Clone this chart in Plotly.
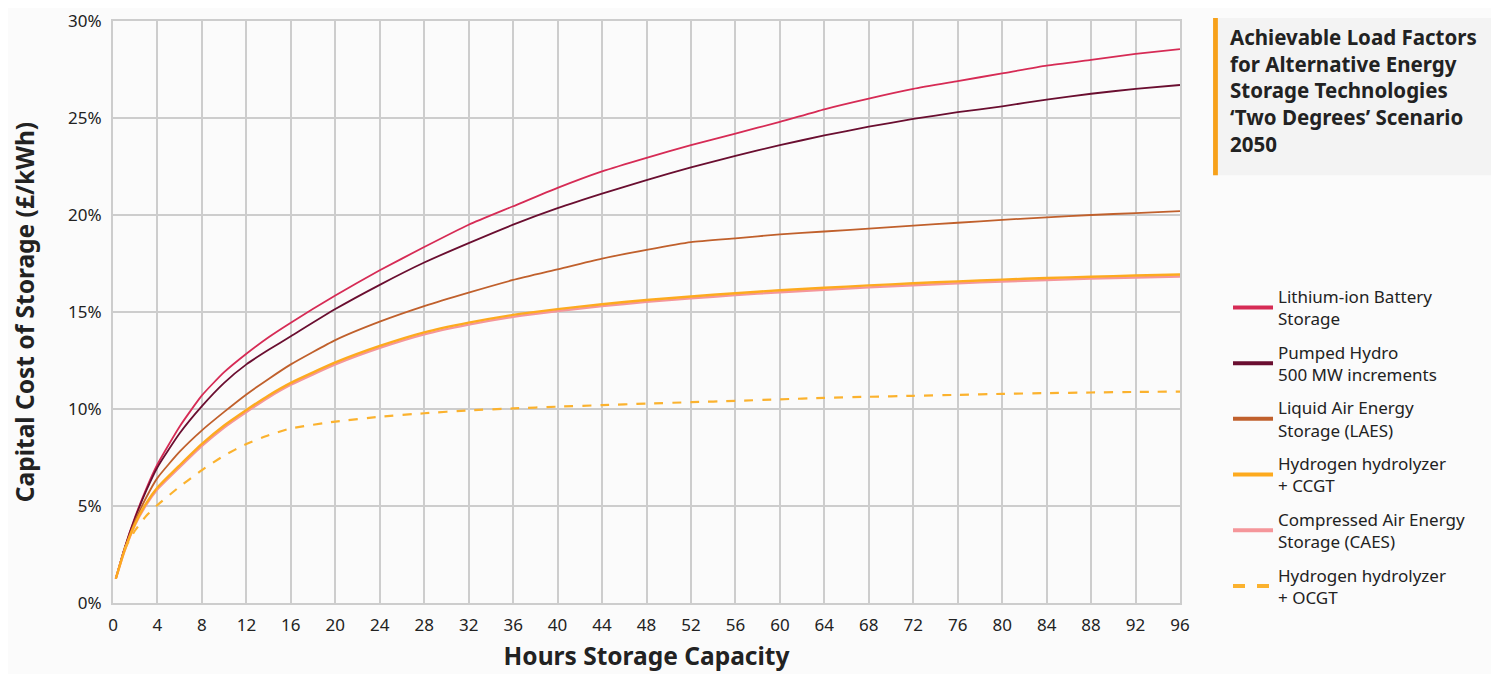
import plotly.graph_objects as go

# hours of storage capacity (x)
hours = [0.25, 1, 2, 3, 4, 6, 8, 10, 12, 14, 16, 20, 24, 28, 32, 36, 40, 44, 48,
         52, 56, 60, 64, 68, 72, 76, 80, 84, 88, 92, 96]

# achievable load factor, %
lithium = [1.25, 2.75, 4.45, 5.9, 7.15, 9.1, 10.7, 11.9, 12.85, 13.7, 14.45, 15.85,
           17.15, 18.35, 19.5, 20.45, 21.4, 22.25, 22.95, 23.6, 24.2, 24.8, 25.45,
           26.0, 26.5, 26.9, 27.3, 27.7, 28.0, 28.3, 28.55]
pumped = [1.25, 2.75, 4.4, 5.8, 7.0, 8.75, 10.15, 11.35, 12.3, 13.05, 13.75, 15.15,
          16.4, 17.55, 18.55, 19.5, 20.35, 21.1, 21.8, 22.45, 23.05, 23.6, 24.1,
          24.55, 24.95, 25.3, 25.6, 25.95, 26.25, 26.5, 26.7]
laes = [1.25, 2.7, 4.25, 5.45, 6.45, 7.8, 8.9, 9.85, 10.75, 11.55, 12.3, 13.55, 14.5,
        15.3, 16.0, 16.65, 17.2, 17.75, 18.2, 18.6, 18.8, 19.0, 19.15, 19.3, 19.45,
        19.6, 19.75, 19.88, 20.0, 20.1, 20.2]
ccgt = [1.25, 2.65, 4.1, 5.15, 5.95, 7.1, 8.2, 9.15, 9.95, 10.7, 11.35, 12.4, 13.25,
        13.95, 14.45, 14.85, 15.15, 15.4, 15.62, 15.8, 15.97, 16.12, 16.25, 16.37,
        16.48, 16.58, 16.67, 16.75, 16.82, 16.88, 16.93]
caes = [1.25, 2.62, 4.05, 5.07, 5.86, 7.0, 8.1, 9.05, 9.85, 10.6, 11.25, 12.3, 13.15,
        13.85, 14.35, 14.75, 15.05, 15.3, 15.52, 15.7, 15.87, 16.02, 16.15, 16.27,
        16.38, 16.48, 16.57, 16.65, 16.72, 16.78, 16.83]
ocgt = [None, 2.75, 3.75, 4.5, 5.05, 6.0, 6.85, 7.6, 8.2, 8.65, 9.0, 9.35, 9.6, 9.78,
        9.93, 10.03, 10.12, 10.2, 10.28, 10.35, 10.42, 10.5, 10.57, 10.63, 10.68,
        10.73, 10.78, 10.82, 10.85, 10.88, 10.9]

series = [
    ("Lithium-ion Battery<br>Storage", lithium, "#D62B55", 1.8, "solid"),
    ("Pumped Hydro<br>500 MW increments", pumped, "#6A0E30", 1.8, "solid"),
    ("Liquid Air Energy<br>Storage (LAES)", laes, "#C0602C", 1.8, "solid"),
    ("Hydrogen hydrolyzer<br>+ CCGT", ccgt, "#FDAA1E", 2.4, "solid"),
    ("Compressed Air Energy<br>Storage (CAES)", caes, "#F5969A", 2.4, "solid"),
    ("Hydrogen hydrolyzer<br>+ OCGT", ocgt, "#FBB22E", 2.2, "dash"),
]

FONT = "Noto Sans"
GRID = "#CDCDCD"

fig = go.Figure()

# CAES goes under CCGT so the orange line sits on top
for i in [0, 1, 2, 4, 3, 5]:
    name, vals, col, w, dash = series[i]
    fig.add_trace(go.Scatter(
        x=hours, y=vals, mode="lines", name=name, showlegend=False,
        line=dict(color=col, width=w, dash=dash, shape="spline", smoothing=0.5),
    ))

# legend-only entries with thicker keys, one group each for spacing
for k, (name, vals, col, w, dash) in enumerate(series):
    fig.add_trace(go.Scatter(
        x=[None], y=[None], mode="lines", name=name, legendgroup=f"g{k}",
        line=dict(color=col, width=4, dash=dash),
    ))

fig.update_layout(
    width=1491, height=666,
    paper_bgcolor="#FBFBFB", plot_bgcolor="#FBFBFB",
    font=dict(family=FONT, color="#222222", size=15),
    margin=dict(l=105, r=319, t=13, b=71),
    legend=dict(
        x=1.045, y=0.557, xanchor="left", yanchor="top",
        font=dict(size=17, color="#222222"), itemwidth=40,
        bgcolor="rgba(0,0,0,0)", tracegroupgap=8.5,
    ),
    shapes=[
        dict(type="rect", xref="paper", yref="paper", x0=1.031, x1=1.3,
             y0=0.735, y1=1.005, fillcolor="#F3F3F3", line_width=0, layer="below"),
        dict(type="rect", xref="paper", yref="paper", x0=1.031, x1=1.0355,
             y0=0.735, y1=1.005, fillcolor="#F7A11A", line_width=0),
    ],
    annotations=[
        dict(xref="paper", yref="paper", x=1.045, y=1.0, xanchor="left", yanchor="top",
             align="left", showarrow=False,
             text="<b>Achievable Load Factors<br>for Alternative Energy<br>"
                  "Storage Technologies<br>‘Two Degrees’ Scenario<br>2050</b>",
             font=dict(size=20.5, color="#222222", family=FONT)),
    ],
)

fig.update_xaxes(
    range=[0, 96], tick0=0, dtick=4, showgrid=True, gridcolor=GRID, gridwidth=2,
    zeroline=False, showline=True, linecolor=GRID, linewidth=2, mirror=True,
    ticks="", tickfont=dict(size=17), ticklabelstandoff=6, automargin=False,
    ticklabeloverflow="allow",
    title=dict(text="<b>Hours Storage Capacity</b>", font=dict(size=24.5), standoff=12),
)
fig.update_yaxes(
    range=[0, 30], tick0=0, dtick=5, ticksuffix="%", showgrid=True, gridcolor=GRID,
    gridwidth=2, zeroline=False, showline=True, linecolor=GRID, linewidth=2, mirror=True,
    ticks="", tickfont=dict(size=17), ticklabelstandoff=6, automargin=False,
    ticklabeloverflow="allow",
    title=dict(text="<b>Capital Cost of Storage (£/kWh)</b>", font=dict(size=24.5),
               standoff=28),
)

fig.write_html("out.html")
